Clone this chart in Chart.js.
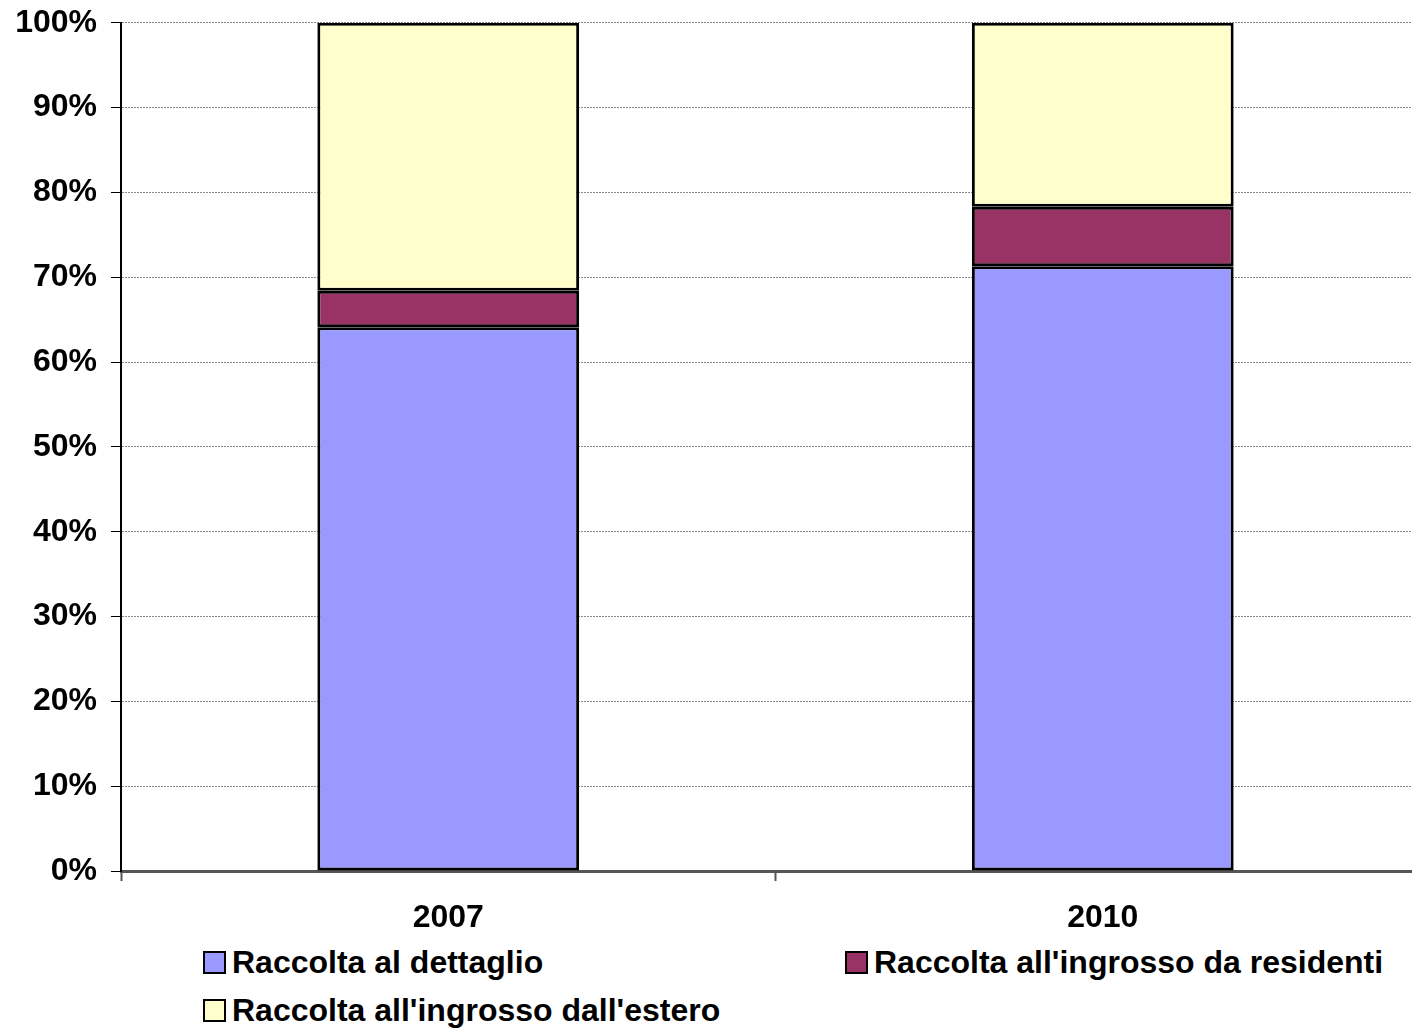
<!DOCTYPE html>
<html>
<head>
<meta charset="utf-8">
<script src="https://cdn.jsdelivr.net/npm/chart.js@4.4.1/dist/chart.umd.min.js"></script>
<style>
    html, body { margin: 0; padding: 0; background: #fff; overflow: hidden; }
    #wrap { position: relative; width: 1412px; height: 1030px; overflow: hidden; }
    #box { position: absolute; left: 0; top: 0; width: 1430px; height: 940px; }
    .leg { position: absolute; display: flex; align-items: center; font: bold 32px "Liberation Sans", Arial, sans-serif; color: #000; white-space: nowrap; }
    .leg span.sq { display: inline-block; width: 19px; height: 19px; border: 2px solid #000; margin-right: 6px; }
</style>
</head>
<body>
<div id="wrap">
    <div id="box"><canvas id="grafico"></canvas></div>
    <div id="legenda"></div>
</div>
<script>
const anni = ["2007", "2010"];
const dettaglio = [64.1, 71.3];
const residenti = [4.3, 7.0];
const estero = [31.6, 21.7];
const nomiSerie = ["Raccolta al dettaglio", "Raccolta all'ingrosso da residenti", "Raccolta all'ingrosso dall'estero"];
const coloriSerie = ["#9999FF", "#993366", "#FFFFCC"];
const tickY = ["0%", "10%", "20%", "30%", "40%", "50%", "60%", "70%", "80%", "90%", "100%"];

const fonte = { family: "'Liberation Sans', Arial, sans-serif", size: 32, weight: "bold" };
const fonteY = { family: "'Liberation Sans', Arial, sans-serif", size: 32, weight: "bold", lineHeight: 0.55 };

const valori = [dettaglio, residenti, estero];

new Chart(document.getElementById("grafico"), {
    type: "bar",
    data: {
        labels: anni,
        datasets: valori.map((v, i) => ({
            label: nomiSerie[i],
            data: v,
            backgroundColor: coloriSerie[i],
            borderColor: "#000",
            borderWidth: 3,
            borderSkipped: false,
            barPercentage: 0.4,
            categoryPercentage: 1
        }))
    },
    options: {
        responsive: true,
        maintainAspectRatio: false,
        animation: false,
        layout: { padding: 0 },
        plugins: {
            legend: { display: false },
            tooltip: { enabled: false }
        },
        scales: {
            x: {
                stacked: true,
                afterFit: function (s) { s.height = 69; },
                grid: {
                    drawOnChartArea: false,
                    drawTicks: true,
                    tickLength: 10,
                    tickColor: "#555",
                    tickWidth: 2
                },
                border: { color: "#555", width: 3 },
                ticks: { color: "#000", font: fonte, padding: 18 }
            },
            y: {
                stacked: true,
                min: 0,
                max: 100,
                afterFit: function (s) { s.width = 121; },
                grid: {
                    color: "#8a8a8a",
                    lineWidth: 1,
                    tickLength: 10,
                    tickColor: "#000",
                    tickWidth: 1,
                    tickBorderDash: []
                },
                border: { color: "#000", width: 2, dash: [2, 1] },
                ticks: {
                    stepSize: 10,
                    color: "#000",
                    font: fonteY,
                    padding: 14,
                    callback: function (value) { return tickY[Math.round(value / 10)]; }
                }
            }
        }
    }
});

// legenda a due colonne
const posizioni = [[203, 962], [845, 962], [203, 1010]];
const legenda = document.getElementById("legenda");
nomiSerie.forEach((nome, i) => {
    const d = document.createElement("div");
    d.className = "leg";
    d.style.left = posizioni[i][0] + "px";
    d.style.top = (posizioni[i][1] - 18) + "px";
    d.style.height = "36px";
    d.innerHTML = '<span class="sq" style="background:' + coloriSerie[i] + '"></span>';
    d.appendChild(document.createTextNode(nome));
    legenda.appendChild(d);
});
</script>
</body>
</html>
